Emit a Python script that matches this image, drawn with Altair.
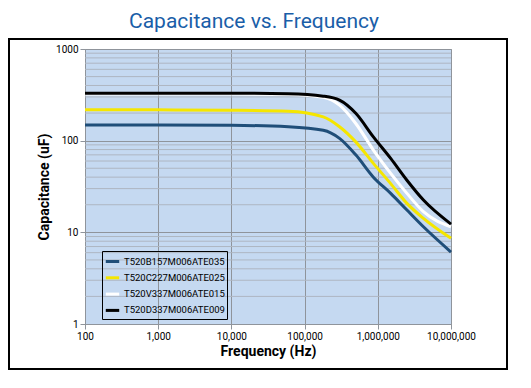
import altair as alt
import pandas as pd

# ---- data ----
freq = [100, 1000, 10000, 60000, 180000, 300000, 500000, 870000, 1500000, 2500000, 4200000, 10000000]
series_names = ["T520B157M006ATE035", "T520C227M006ATE025", "T520V337M006ATE015", "T520D337M006ATE009"]
cap_b157 = [148, 148, 147, 142, 130, 106, 70, 40, 26.6, 17.5, 11.5, 6.1]
cap_c227 = [218, 217, 215, 210, 182, 142, 97, 56.5, 34, 20.7, 14.2, 8.6]
cap_v337 = [322, 322, 322, 318, 297, 244, 154, 79, 44, 26.6, 16.8, 11.5]
cap_d337 = [330, 330, 330, 325, 306, 277, 199, 110, 64, 37, 22.5, 12.3]
series_colors = ["#1f4e79", "#f5e600", "#ffffff", "#000000"]

x_ticks = [100, 1000, 10000, 100000, 1000000, 10000000]
y_ticks = [1, 10, 100, 1000]
y_minor = [m * d for d in [1, 10, 100] for m in range(2, 10)]

rows = []
for name, vals in zip(series_names, [cap_b157, cap_c227, cap_v337, cap_d337]):
    for i, (f, c) in enumerate(zip(freq, vals)):
        rows.append({"series": name, "f": f, "c": c, "order": i})
df = pd.DataFrame(rows)
minor_df = pd.DataFrame({"c": y_minor})
frame_df = pd.DataFrame({"k": [0]})

FONT = "Roboto"
GRID = "#8f949b"
xscale = alt.Scale(type="log", domain=[100, 10000000], nice=False)
yscale = alt.Scale(type="log", domain=[1, 1000], nice=False)

y_axis = alt.Axis(values=y_ticks, format="d", title="Capacitance  (uF)",
                  grid=True, gridColor=GRID, gridOpacity=1,
                  tickSize=5, tickColor=GRID, domainColor=GRID,
                  labelFont=FONT, labelFontSize=10, labelColor="#000000",
                  titleFont=FONT, titleFontSize=14, titleFontWeight="bold",
                  titleColor="#000000", titlePadding=4, labelPadding=2)
x_axis = alt.Axis(values=x_ticks, format=",d", title="Frequency (Hz)",
                  grid=True, gridColor=GRID, gridOpacity=1, labelFlush=False,
                  tickSize=5, tickColor=GRID, domainColor=GRID,
                  labelFont=FONT, labelFontSize=10, labelColor="#000000",
                  titleFont=FONT, titleFontSize=14, titleFontWeight="bold",
                  titleColor="#000000", titlePadding=3, labelPadding=2)

minor = alt.Chart(minor_df).mark_rule(color="#aeb6c2", strokeWidth=1).encode(
    y=alt.Y("c:Q", scale=yscale, axis=y_axis)
)

lines = alt.Chart(df).mark_line(strokeWidth=3, interpolate="monotone").encode(
    x=alt.X("f:Q", scale=xscale, axis=x_axis),
    y=alt.Y("c:Q", scale=yscale, axis=y_axis),
    color=alt.Color("series:N", sort=series_names,
                    scale=alt.Scale(domain=series_names, range=series_colors),
                    legend=alt.Legend(title=None, orient="none", legendX=17, legendY=202,
                                      symbolType="stroke", symbolStrokeWidth=3, symbolSize=180,
                                      labelFont=FONT, labelFontSize=9.5, labelColor="#000000",
                                      strokeColor="#000000", padding=2, rowPadding=1.3,
                                      labelOffset=3)),
    order=alt.Order("order:Q"),
)

frame = alt.Chart(frame_df).mark_rect(fill="white", fillOpacity=0, stroke="#000000", strokeWidth=2).encode(
    x=alt.value(-76), x2=alt.value(422), y=alt.value(-10), y2=alt.value(320)
)

chart = alt.layer(minor, lines, frame).properties(
    width=366, height=275,
    autosize=alt.AutoSizeParams(type="none"),
    padding={"left": 77, "top": 41, "right": 62, "bottom": 50},
    title=alt.Title("Capacitance vs. Frequency", font=FONT, fontSize=21, fontWeight="normal",
                    color="#1a5ea8", anchor="middle", frame="group", offset=6, dx=-14),
).configure_view(fill="#c5d9f1", stroke="#a0a4aa", strokeWidth=1)

chart.save("out.html", embed_options={"renderer": "svg", "actions": False})
